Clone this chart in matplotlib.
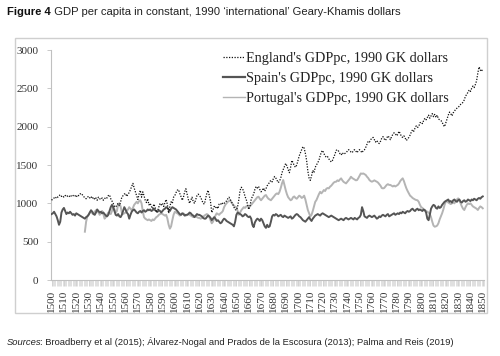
import numpy as np
import matplotlib
matplotlib.use("Agg")
import matplotlib.pyplot as plt
from matplotlib.patches import Rectangle
from matplotlib.ticker import MultipleLocator

years = list(range(1500, 1851))

england = [
    1040, 1060, 1070, 1060, 1090, 1080, 1100, 1110, 1090, 1100,
    1080, 1100, 1110, 1090, 1100, 1080, 1100, 1110, 1090, 1100,
    1080, 1110, 1100, 1120, 1130, 1110, 1090, 1070, 1060, 1080,
    1090, 1070, 1090, 1060, 1080, 1050, 1070, 1040, 1080, 1060,
    1050, 1070, 1040, 1060, 1080, 1070, 1100, 1110, 1060, 1030,
    1000, 960, 950, 980, 1000, 970, 1020, 1080, 1100, 1120,
    1130, 1090, 1120, 1140, 1180, 1220, 1260, 1200, 1150, 1100,
    1050, 1120, 1170, 1080, 1150, 1100, 1040, 1010, 1060, 980,
    1000, 960, 930, 990, 950, 880, 900, 950, 1000, 980,
    1000, 960, 1010, 1050, 980, 870, 960, 1020, 1000, 1080,
    1100, 1140, 1170, 1180, 1130, 1090, 1040, 1080, 1150, 1190,
    1120, 1050, 1000, 1040, 1080, 1020, 1000, 1050, 1100, 1120,
    1100, 1080, 1040, 1000, 990, 1060, 1130, 1170, 1100, 1020,
    880, 920, 960, 940, 960, 930, 990, 1000, 980, 1010,
    1000, 1020, 1030, 1060, 1080, 1050, 1020, 990, 950, 920,
    910, 960, 1050, 1170, 1210, 1190, 1150, 1090, 1050, 990,
    920, 960, 1050, 1090, 1120, 1180, 1220, 1200, 1220, 1180,
    1150, 1170, 1200, 1160, 1190, 1230, 1250, 1280, 1300, 1280,
    1320, 1350, 1330, 1300, 1270, 1290, 1330, 1400, 1440, 1480,
    1520, 1490, 1440, 1400, 1470, 1560, 1530, 1490, 1470, 1500,
    1560, 1620, 1660, 1700, 1740, 1720, 1650, 1560, 1420, 1330,
    1300, 1360, 1430, 1400, 1470, 1500, 1530, 1560, 1620, 1670,
    1690, 1650, 1620, 1600, 1610, 1580, 1560, 1540, 1560, 1600,
    1640, 1690, 1700, 1680, 1650, 1630, 1660, 1640, 1650, 1660,
    1680, 1700, 1690, 1670, 1660, 1690, 1700, 1680, 1660, 1690,
    1700, 1680, 1660, 1690, 1700, 1730, 1770, 1810, 1800, 1830,
    1850, 1860, 1830, 1800, 1820, 1790, 1780, 1810, 1850, 1870,
    1840, 1820, 1850, 1880, 1860, 1830, 1870, 1900, 1920, 1910,
    1880, 1900, 1940, 1910, 1870, 1860, 1880, 1850, 1820, 1840,
    1860, 1890, 1930, 1960, 1940, 1980, 2010, 1990, 2000, 2050,
    2060, 2040, 2080, 2110, 2090, 2120, 2150, 2110, 2140, 2170,
    2130, 2160, 2120, 2150, 2100, 2090, 2080, 2060, 2020, 2000,
    2050, 2100, 2150, 2190, 2170, 2140, 2180, 2200, 2230, 2240,
    2250, 2270, 2290, 2300, 2320, 2350, 2400, 2420, 2450, 2480,
    2460, 2500, 2530, 2510, 2550, 2600, 2700, 2780, 2740, 2720,
    2760,
]

spain = [
    860, 870, 890, 860, 830, 780, 720, 760, 880, 920,
    940, 900, 860, 880, 870, 890, 870, 850, 860, 840,
    870, 860, 850, 840, 830, 820, 810, 800, 820, 830,
    850, 880, 910, 890, 860, 850, 880, 920, 900, 880,
    890, 870, 880, 860, 840, 830, 850, 900, 950, 980,
    950, 900, 850, 840, 860, 830, 820, 850, 900, 950,
    920, 880, 860, 800, 850, 890, 910, 920, 900, 880,
    870, 890, 900, 880, 900, 910, 890, 900, 920, 910,
    920, 900, 910, 930, 910, 900, 890, 910, 900, 880,
    900, 920, 930, 950, 940, 920, 900, 930, 950, 940,
    930, 920, 900, 880, 860, 850, 870, 860, 840, 850,
    850, 860, 880, 870, 850, 840, 820, 840, 860, 850,
    850, 840, 830, 810, 800, 800, 820, 840, 830, 810,
    780, 800, 820, 800, 770, 780, 760, 740, 750, 780,
    800, 790, 770, 760, 750, 740, 730, 720, 700, 760,
    850, 880, 870, 860, 850, 830, 840, 860, 850, 830,
    820, 830, 800, 720, 690, 750, 780, 800, 790, 770,
    800, 780, 740, 700, 680, 720, 690, 700, 760, 830,
    850, 840, 860, 850, 830, 840, 850, 830, 820, 840,
    830, 820, 810, 820, 830, 800, 810, 830, 850, 860,
    850, 830, 820, 800, 780, 770, 760, 780, 800, 820,
    790, 770, 800, 820, 840, 850, 860, 850, 840, 860,
    870, 860, 850, 840, 830, 820, 830, 840, 830, 820,
    810, 800, 790, 780, 790, 800, 790, 780, 800, 810,
    800, 790, 800, 810, 800, 790, 810, 800, 790, 810,
    820, 850, 950, 900, 830, 820, 810, 830, 840, 830,
    820, 830, 840, 820, 800, 810, 830, 820, 840, 850,
    840, 830, 850, 860, 830, 840, 850, 860, 870, 850,
    860, 870, 860, 880, 870, 890, 880, 870, 890, 900,
    890, 900, 920, 930, 910, 900, 920, 930, 910, 920,
    910, 900, 920, 910, 880, 800, 780, 850, 930, 960,
    980, 970, 940, 930, 960, 940, 950, 980, 1000, 1020,
    1030, 1040, 1050, 1020, 1030, 1010, 1040, 1050, 1030, 1020,
    1040, 1050, 1020, 1010, 1030, 1040, 1020, 1030, 1050, 1040,
    1030, 1050, 1040, 1060, 1050, 1040, 1060, 1070, 1060, 1080,
    1090,
]

nan = float("nan")
portugal = [
    nan, nan, nan, nan, nan, nan, nan, nan, nan, nan,
    nan, nan, nan, nan, nan, nan, nan, nan, nan, nan,
    nan, nan, nan, nan, nan, nan, nan, 630, 760, 830,
    850, 880, 900, 870, 860, 890, 910, 900, 880, 850,
    870, 900, 860, 800, 820, 850, 880, 870, 860, 900,
    950, 920, 880, 900, 990, 1000, 960, 880, 860, 870,
    880, 900, 920, 950, 930, 910, 940, 980, 1000, 1020,
    1000, 1030, 1040, 1000, 900, 820, 800, 790, 780, 790,
    780, 770, 790, 780, 800, 820, 830, 850, 860, 870,
    860, 850, 840, 850, 800, 720, 670, 700, 780, 850,
    890, 880, 870, 860, 840, 850, 860, 870, 850, 840,
    850, 860, 850, 840, 830, 820, 825, 830, 820, 810,
    810, 800, 810, 820, 840, 850, 860, 850, 820, 780,
    740, 760, 800, 840, 870, 860, 850, 870, 880, 900,
    950, 980, 1000, 1020, 1030, 1040, 1010, 990, 970, 955,
    950, 900, 850, 880, 910, 930, 950, 940, 960, 970,
    950, 960, 980, 1000, 1020, 1040, 1060, 1080, 1086, 1060,
    1040, 1060, 1080, 1100, 1108, 1080, 1060, 1050, 1040, 1060,
    1080, 1100, 1120, 1130, 1120, 1150, 1200, 1260, 1304, 1240,
    1174, 1120, 1080, 1060, 1040, 1050, 1080, 1090, 1070, 1060,
    1080, 1100, 1090, 1070, 1080, 1100, 1050, 980, 913, 870,
    830, 850, 900, 960, 1020, 1043, 1080, 1120, 1150, 1130,
    1150, 1174, 1160, 1190, 1200, 1195, 1217, 1230, 1250, 1270,
    1280, 1282, 1300, 1290, 1310, 1326, 1300, 1280, 1270, 1260,
    1280, 1300, 1320, 1347, 1330, 1320, 1310, 1300, 1304, 1330,
    1360, 1390, 1385, 1390, 1380, 1370, 1347, 1330, 1304, 1290,
    1282, 1290, 1300, 1290, 1282, 1270, 1250, 1230, 1200, 1195,
    1200, 1220, 1240, 1250, 1240, 1240, 1230, 1220, 1230, 1220,
    1230, 1240, 1260, 1290, 1310, 1326, 1290, 1240, 1195, 1160,
    1130, 1100, 1087, 1070, 1060, 1050, 1043, 1040, 1020, 980,
    950, 940, 920, 910, 900, 890, 880, 860, 820, 760,
    710, 695, 700, 710, 740, 790, 830, 870, 920, 980,
    1020, 1030, 1010, 1000, 990, 1000, 1010, 1000, 1030, 1050,
    1065, 1040, 1000, 960, 930, 913, 950, 980, 1000, 990,
    1000, 980, 960, 950, 940, 930, 913, 940, 960, 950,
    935,
]

labels = [
    "England's GDPpc, 1990 GK dollars",
    "Spain's GDPpc, 1990 GK dollars",
    "Portugal's GDPpc, 1990 GK dollars",
]
title_bold = "Figure 4"
title_rest = " GDP per capita in constant, 1990 \u2018international\u2019 Geary-Khamis dollars"
source_italic = "Sources"
source_rest = ": Broadberry et al (2015); \u00c1lvarez-Nogal and Prados de la Escosura (2013); Palma and Reis (2019)"

SERIF = ["Liberation Serif", "DejaVu Serif"]
SANS = ["Liberation Sans", "DejaVu Sans"]

fig = plt.figure(figsize=(5.0, 3.56), dpi=100)
fig.patch.set_facecolor("white")

# outer frame of the chart area
fig.add_artist(Rectangle((15 / 500, 1 - 313 / 356), 472 / 500, 275 / 356,
                         transform=fig.transFigure, fill=False,
                         edgecolor="#cfcfcf", linewidth=1.0))

ax = fig.add_axes([51 / 500, 1 - 280 / 356, 433 / 500, 230 / 356])
ax.plot(years, portugal, color="#b4b4b4", lw=1.4, label=labels[2], zorder=2)
ax.plot(years, spain, color="#555555", lw=1.4, label=labels[1], zorder=3)
ax.plot(years, england, color="#111111", lw=0.9, ls=(0, (1, 1.2)), label=labels[0], zorder=4)

ax.set_xlim(1499.5, 1851)
ax.set_ylim(0, 3000)
ax.set_yticks([0, 500, 1000, 1500, 2000, 2500, 3000])
ax.set_xticks(list(range(1500, 1851, 10)))
ax.xaxis.set_minor_locator(MultipleLocator(1))
for s in ["top", "right"]:
    ax.spines[s].set_visible(False)
for s in ["left", "bottom"]:
    ax.spines[s].set_color("#c0c0c0")
    ax.spines[s].set_linewidth(0.8)
ax.tick_params(axis="y", length=3, width=0.6, color="#c0c0c0", pad=6,
               labelsize=8, labelcolor="#333333")
ax.tick_params(axis="x", which="major", length=4, width=0.5, color="#c0c0c0",
               pad=3, labelsize=8, labelcolor="#333333", labelrotation=90)
ax.tick_params(axis="x", which="minor", length=4, width=0.4, color="#c8c8c8")
for lab in ax.get_xticklabels() + ax.get_yticklabels():
    lab.set_fontfamily(SERIF)

h, l = ax.get_legend_handles_labels()
order = [2, 1, 0]
leg = ax.legend([h[i] for i in order], [l[i] for i in order], loc="upper left",
                bbox_to_anchor=(0.384, 1.015), frameon=False, handlelength=1.55,
                handletextpad=0.1, labelspacing=0.5, borderaxespad=0,
                prop={"family": SERIF, "size": 10.2})
for t in leg.get_texts():
    t.set_color("#222222")
leg.get_lines()[2].set_linewidth(1.0)
leg.get_lines()[1].set_linewidth(1.6)

t1 = fig.text(7 / 500, 1 - 15 / 356, title_bold, fontsize=8.1, fontweight="bold",
              family=SANS, color="#111111", va="baseline")
fig.canvas.draw()
ax.annotate(title_rest, xy=(1, 0), xycoords=t1, fontsize=8.1, family=SANS,
            color="#222222", va="bottom", annotation_clip=False)

t2 = fig.text(7 / 500, 1 - 345 / 356, source_italic, fontsize=6.75, fontstyle="italic",
              family=SANS, color="#222222", va="baseline")
ax.annotate(source_rest, xy=(1, 0), xycoords=t2, xytext=(-1, 0),
            textcoords="offset points", fontsize=6.75, family=SANS,
            color="#222222", va="bottom", annotation_clip=False)

fig.savefig("out.png", dpi=100, facecolor="white")
